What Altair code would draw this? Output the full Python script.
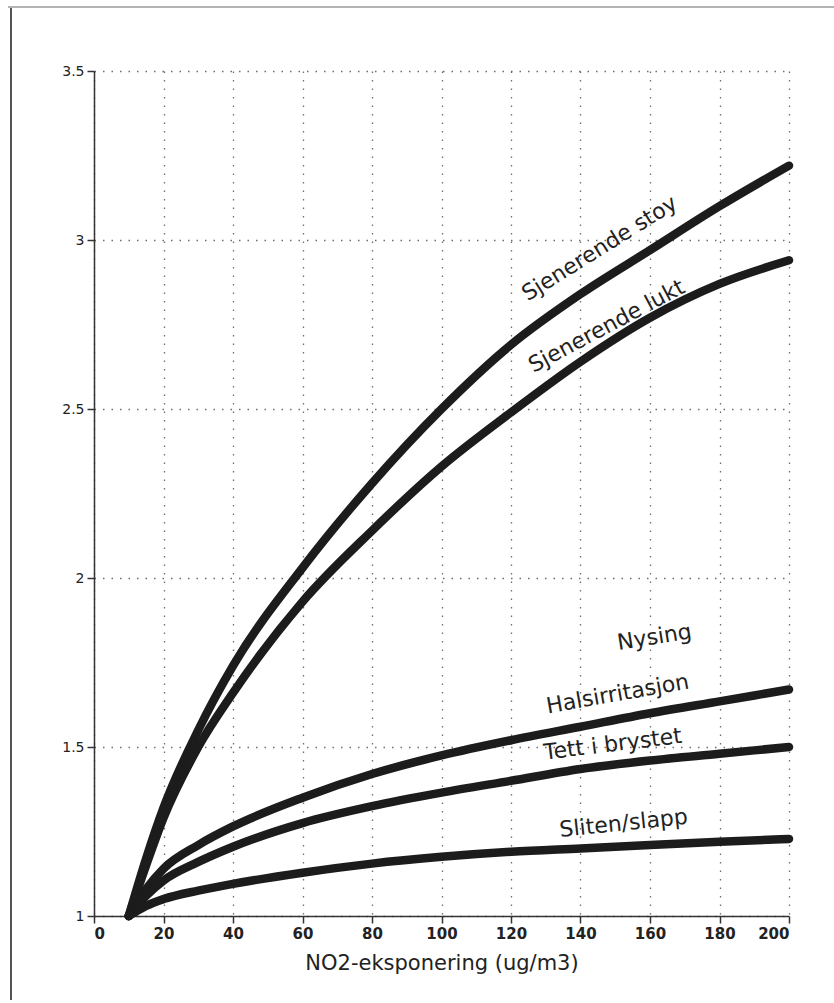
import altair as alt
import pandas as pd

# NO2 exposure (ug/m3) at which each curve is sampled
no2 = [10, 15, 20, 30, 40, 60, 80, 100, 120, 140, 160, 180, 200]

# Relative response for each symptom
stoy = [1.0, 1.17, 1.32, 1.55, 1.74, 2.03, 2.28, 2.50, 2.69, 2.84, 2.97, 3.10, 3.22]
lukt = [1.0, 1.15, 1.29, 1.50, 1.66, 1.93, 2.14, 2.33, 2.49, 2.64, 2.77, 2.87, 2.94]
hals = [1.0, 1.08, 1.14, 1.21, 1.265, 1.35, 1.42, 1.475, 1.52, 1.56, 1.60, 1.635, 1.67]
tett = [1.0, 1.06, 1.105, 1.16, 1.205, 1.275, 1.325, 1.365, 1.40, 1.435, 1.46, 1.48, 1.50]
sliten = [1.0, 1.03, 1.05, 1.075, 1.095, 1.128, 1.155, 1.175, 1.19, 1.20, 1.21, 1.22, 1.228]

series = {
    "Sjenerende stoy": stoy,
    "Sjenerende lukt": lukt,
    "Halsirritasjon": hals,
    "Tett i brystet": tett,
    "Sliten/slapp": sliten,
}

# Curve labels, placed alongside the curves
label_text = ["Sjenerende stoy", "Sjenerende lukt", "Nysing",
              "Halsirritasjon", "Tett i brystet", "Sliten/slapp"]
label_x = [145.5, 147.5, 161.3, 150.7, 149.3, 152.4]
label_y = [2.975, 2.745, 1.825, 1.657, 1.508, 1.274]
label_angle = [328, 332, 351, 350, 353, 354]

x_ticks = list(range(0, 201, 20))
y_ticks = [1, 1.5, 2, 2.5, 3, 3.5]

rows = []
for name, vals in series.items():
    for xv, yv in zip(no2, vals):
        rows.append({"symptom": name, "no2": xv, "value": yv})
curves_df = pd.DataFrame(rows)

labels_df = pd.DataFrame({
    "text": label_text, "no2": label_x, "value": label_y, "angle": label_angle,
})

FONT = "DejaVu Sans"
W, H = 695, 845

x_enc = alt.X(
    "no2:Q",
    scale=alt.Scale(domain=[0, 200], nice=False),
    axis=alt.Axis(
        values=x_ticks, title="NO2-eksponering (ug/m3)", format="d",
        labelFontWeight="bold", labelFontSize=15, labelPadding=3,
        titleFontSize=21, titleFontWeight="normal", titlePadding=11,
        tickSize=7,
    ),
)
y_enc = alt.Y(
    "value:Q",
    scale=alt.Scale(domain=[1, 3.5], nice=False, zero=False),
    axis=alt.Axis(
        values=y_ticks, title=None, format="~g",
        labelFontSize=14, labelPadding=3, tickSize=7,
    ),
)

curves = alt.Chart(curves_df).mark_line(
    strokeWidth=8.5, interpolate="monotone", strokeCap="round",
    strokeJoin="round", color="#1c1c1c",
).encode(x=x_enc, y=y_enc, detail="symptom:N")

labels = alt.Chart(labels_df).mark_text(
    font=FONT, fontSize=22, color="#222222", align="center", baseline="middle",
).encode(
    x="no2:Q", y="value:Q", text="text:N",
    angle=alt.Angle("angle:Q", scale=None),
)

# Page frame: left edge and top edge
frame_left = alt.Chart(pd.DataFrame({"k": [0]})).mark_rule(
    color="#555555", strokeWidth=2
).encode(x=alt.value(-83), y=alt.value(-63), y2=alt.value(929))
frame_top = alt.Chart(pd.DataFrame({"k": [0]})).mark_rule(
    color="#9a9a9a", strokeWidth=1.5
).encode(x=alt.value(-86), x2=alt.value(740), y=alt.value(-64))

chart = alt.layer(frame_left, frame_top, curves, labels).properties(
    width=W, height=H,
    autosize=alt.AutoSizeParams(type="none"),
    padding={"left": 94, "top": 71, "right": 45, "bottom": 87},
    background="white",
).configure_view(stroke=None).configure_axis(
    labelFont=FONT, titleFont=FONT, labelColor="#222222", titleColor="#222222",
    domainColor="#333333", domainWidth=1.5, tickColor="#333333", tickWidth=1.5,
    grid=True, gridColor="#555555", gridDash=[1.5, 7], gridWidth=1.3,
    gridOpacity=0.85,
)

chart.save("out.html", embed_options={"renderer": "svg", "actions": False})
